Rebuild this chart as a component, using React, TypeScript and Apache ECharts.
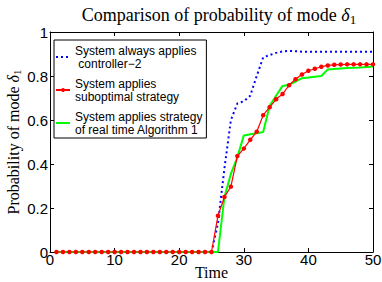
import React, { useEffect, useRef } from "react";
import * as echarts from "echarts";

const time = [1, 2, 3, 4, 5, 6, 7, 8, 9, 10, 11, 12, 13, 14, 15, 16, 17, 18, 19, 20, 21, 22, 23, 24, 25, 26, 27, 28, 29, 30, 31, 32, 33, 34, 35, 36, 37, 38, 39, 40, 41, 42, 43, 44, 45, 46, 47, 48, 49, 50];

const controller2 = [0, 0, 0, 0, 0, 0, 0, 0, 0, 0, 0, 0, 0, 0, 0, 0, 0, 0, 0, 0, 0, 0, 0, 0, 0,
  0.13, 0.38, 0.6, 0.675, 0.685, 0.71, 0.8, 0.885, 0.895, 0.905, 0.912, 0.914, 0.913,
  0.91, 0.91, 0.91, 0.91, 0.91, 0.91, 0.91, 0.91, 0.91, 0.91, 0.91, 0.91];

const suboptimal = [0, 0, 0, 0, 0, 0, 0, 0, 0, 0, 0, 0, 0, 0, 0, 0, 0, 0, 0, 0, 0, 0, 0, 0, 0,
  0.165, 0.25, 0.297, 0.436, 0.47, 0.51, 0.547, 0.622, 0.658, 0.694, 0.718, 0.758, 0.785, 0.807, 0.824,
  0.833, 0.842, 0.848, 0.851, 0.852, 0.853, 0.853, 0.853, 0.853, 0.853];

const realtime = [0, 0, 0, 0, 0, 0, 0, 0, 0, 0, 0, 0, 0, 0, 0, 0, 0, 0, 0, 0, 0, 0, 0, 0, 0, 0,
  0.25, 0.355, 0.43, 0.53, 0.535, 0.54, 0.545, 0.665, 0.71, 0.755, 0.76, 0.775, 0.79, 0.793, 0.797,
  0.8, 0.83, 0.832, 0.834, 0.836, 0.838, 0.839, 0.841, 0.843];

const names = [
  "System always applies\n controller\u22122",
  "System applies\nsuboptimal strategy",
  "System applies strategy\nof real time Algorithm 1",
];

const xTicks = { min: 0, max: 50, interval: 10 };
const yTicks = { min: 0, max: 1, interval: 0.2 };

const serif = "Liberation Serif";
const sans = "Liberation Sans";

const richSub = (size: number) => ({
  i: { fontFamily: serif, fontSize: size, fontStyle: "italic", color: "#000" },
  s: { fontFamily: serif, fontSize: Math.round(size * 0.7), color: "#000", padding: [Math.round(size * 0.45), 0, 0, 0] },
});

export default function App() {
  const ref = useRef<HTMLDivElement>(null);
  useEffect(() => {
    const chart = echarts.init(ref.current!, null, { renderer: "svg" });
    const pairs = (vals: number[]) => time.map((t, i) => [t, vals[i]]);
    const axisLine = { show: true, onZero: false, lineStyle: { color: "#000", width: 1 } };
    const tick = { show: true, inside: true, length: 4, lineStyle: { color: "#000" } };
    const hidden = { color: "rgba(0,0,0,0)", borderWidth: 0 };
    chart.setOption({
      animation: false,
      backgroundColor: "#fff",
      grid: { left: 50, right: 9, top: 32, bottom: 30, containLabel: false, outerBoundsMode: "none" },
      graphic: [
        {
          type: "text",
          x: 219,
          y: 15,
          style: {
            text: "Comparison of probability of mode {i|\u03b4}{s|1}",
            fontFamily: serif,
            fontSize: 18,
            fill: "#000",
            align: "center",
            verticalAlign: "middle",
            rich: richSub(18),
          },
        },
      ],
      legend: {
        data: [
          { name: names[0], itemStyle: hidden },
          { name: names[1] },
          { name: names[2], itemStyle: hidden },
        ],
        orient: "vertical",
        left: 54,
        top: 40,
        borderColor: "#000",
        borderWidth: 1,
        backgroundColor: "#fff",
        padding: [4, 4, 2, 1],
        itemGap: 7,
        itemWidth: 14,
        itemHeight: 5,
        selectedMode: false,
        textStyle: { fontFamily: sans, fontSize: 12, lineHeight: 13, color: "#000" },
      },
      xAxis: [
        {
          type: "value",
          ...xTicks,
          name: "Time",
          nameLocation: "middle",
          nameGap: 12,
          nameMoveOverlap: false,
          nameTextStyle: { fontFamily: serif, fontSize: 16, color: "#000" },
          axisLine,
          axisTick: tick,
          axisLabel: { fontFamily: sans, fontSize: 15, color: "#000", margin: 0 },
          splitLine: { show: false },
        },
        {
          type: "value",
          position: "top",
          ...xTicks,
          axisLine,
          axisTick: tick,
          axisLabel: { show: false },
          splitLine: { show: false },
        },
      ],
      yAxis: [
        {
          type: "value",
          ...yTicks,
          name: "Probability of mode {i|\u03b4}{s|1}",
          nameLocation: "middle",
          nameGap: 28,
          nameMoveOverlap: false,
          nameTextStyle: { fontFamily: serif, fontSize: 16, color: "#000", rich: richSub(16) },
          axisLine,
          axisTick: tick,
          axisLabel: {
            fontFamily: sans,
            fontSize: 15,
            color: "#000",
            margin: 2,
            formatter: (v: number) => (v === 0 ? "0" : v === 1 ? "1" : v.toFixed(1)),
          },
          splitLine: { show: false },
        },
        {
          type: "value",
          position: "right",
          ...yTicks,
          axisLine,
          axisTick: tick,
          axisLabel: { show: false },
          splitLine: { show: false },
        },
      ],
      series: [
        {
          name: names[0],
          type: "line",
          data: pairs(controller2),
          symbol: "none",
          color: "#0000ff",
          lineStyle: { color: "#0000ff", width: 2, type: [2, 3] },
          z: 2,
        },
        {
          name: names[2],
          type: "line",
          data: pairs(realtime),
          symbol: "none",
          color: "#00ff00",
          lineStyle: { color: "#00ff00", width: 2 },
          z: 3,
        },
        {
          name: names[1],
          type: "line",
          data: pairs(suboptimal),
          symbol: "circle",
          symbolSize: 4.5,
          showSymbol: true,
          color: "#ff0000",
          itemStyle: { color: "#ff0000" },
          lineStyle: { color: "#ff0000", width: 1.2 },
          z: 4,
        },
      ],
    });
    return () => chart.dispose();
  }, []);
  return <div ref={ref} style={{ position: "absolute", left: 0, top: 0, width: 382, height: 282 }} />;
}
